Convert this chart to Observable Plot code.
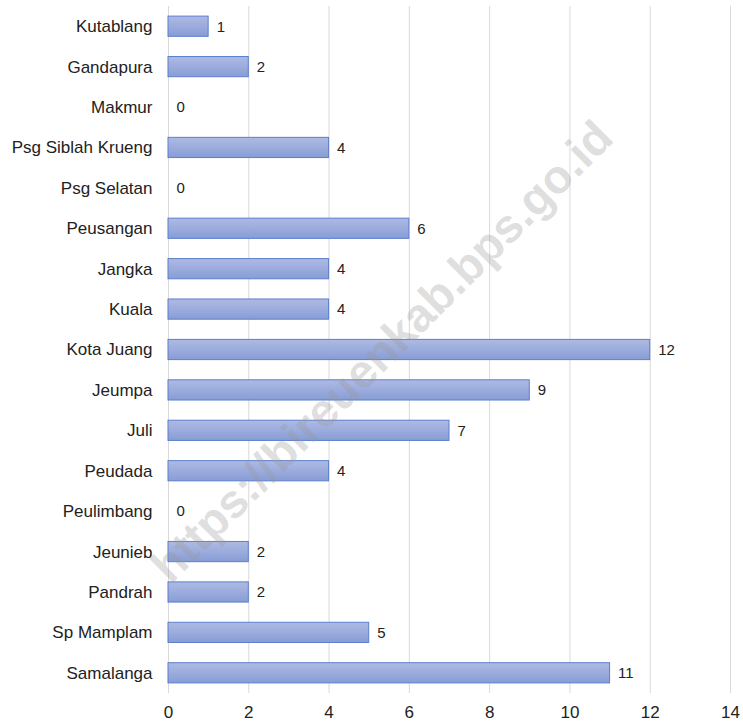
<!DOCTYPE html>
<html>
<head>
<meta charset="utf-8">
<script src="https://cdn.jsdelivr.net/npm/d3@7"></script>
<script src="https://cdn.jsdelivr.net/npm/@observablehq/plot@0.6"></script>
<style>
  html, body { margin: 0; padding: 0; background: #fff; }
  #chart svg { display: block; }
</style>
</head>
<body>
<div id="chart"></div>
<script>
const categories = ["Kutablang", "Gandapura", "Makmur", "Psg Siblah Krueng", "Psg Selatan", "Peusangan", "Jangka", "Kuala", "Kota Juang", "Jeumpa", "Juli", "Peudada", "Peulimbang", "Jeunieb", "Pandrah", "Sp Mamplam", "Samalanga"];
const values = [1, 2, 0, 4, 0, 6, 4, 4, 12, 9, 7, 4, 0, 2, 2, 5, 11];
const xTicks = [0, 2, 4, 6, 8, 10, 12, 14];
const watermark = "https://bireuenkab.bps.go.id";

const data = categories.map((c, i) => ({ name: c, value: values[i] }));

const chart = Plot.plot({
  width: 743,
  height: 724,
  marginLeft: 168,
  marginRight: 13,
  marginTop: 6,
  marginBottom: 31,
  style: { fontFamily: "'Liberation Sans', Arial, sans-serif", background: "#fff", color: "#222", fontSize: "17px" },
  x: { domain: [0, 14], ticks: xTicks, label: null },
  y: { domain: categories, label: null, paddingInner: 0.5, paddingOuter: 0.25, round: false },
  marks: [
    Plot.ruleX(xTicks, { stroke: "#d9d9d9", strokeWidth: 1 }),
    Plot.barX(data, { y: "name", x: "value", fill: "url(#barGrad)", stroke: "#5b7fcd", strokeWidth: 1 }),
    Plot.text(data, { y: "name", x: "value", text: d => String(d.value), textAnchor: "start", dx: 8, fontSize: 15, fill: "#222" }),
    Plot.axisY({ tickSize: 0, tickPadding: 16, fontSize: 17, label: null }),
    Plot.axisX({ ticks: xTicks, tickSize: 0, tickPadding: 12, fontSize: 17, label: null }),
    Plot.text([watermark], { frameAnchor: "middle", text: d => d, rotate: -45, dx: -67, dy: 2, fontSize: 47, fontWeight: "bold", fill: "#999", fillOpacity: 0.33 })
  ]
});

const svg = d3.select(chart);
const defs = svg.insert("defs", ":first-child");
const grad = defs.append("linearGradient").attr("id", "barGrad").attr("x1", 0).attr("y1", 0).attr("x2", 0).attr("y2", 1);
grad.append("stop").attr("offset", "0%").attr("stop-color", "#aebae3");
grad.append("stop").attr("offset", "100%").attr("stop-color", "#889dd6");

document.getElementById("chart").appendChild(chart);
</script>
</body>
</html>
